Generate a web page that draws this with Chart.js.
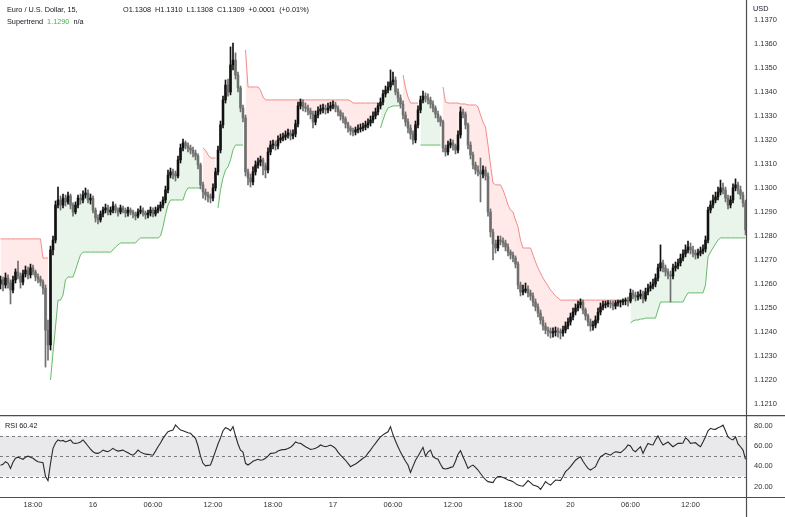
<!DOCTYPE html>
<html><head><meta charset="utf-8">
<script src="https://cdn.jsdelivr.net/npm/chart.js@4.4.0/dist/chart.umd.min.js"></script>
<style>
html,body{margin:0;padding:0;background:#fff;overflow:hidden;}
#wrap{position:relative;width:785px;height:517px;}
canvas{position:absolute;left:0;}
#main{top:0;}
#rsi{top:415px;}
.t{position:absolute;font:7.3px "Liberation Sans",Arial,sans-serif;color:#131722;white-space:pre;line-height:9px;display:flex;}
.t span{margin-right:4px;}
</style></head>
<body><div id="wrap">
<canvas id="main" width="785" height="415"></canvas>
<canvas id="rsi" width="785" height="102"></canvas>
<div class="t" style="left:7px;top:5px"><span>Euro / U.S. Dollar, 15,</span></div>
<div class="t" style="left:123px;top:5px"><span>O1.1308</span><span>H1.1310</span><span>L1.1308</span><span>C1.1309</span><span>+0.0001</span><span>(+0.01%)</span></div>
<div class="t" style="left:7px;top:17px"><span>Supertrend</span><span style="color:#4caf50">1.1290</span><span>n/a</span></div>
<div class="t" style="left:753px;top:4px">USD</div>
<div class="t" style="left:5px;top:421px">RSI 60.42</div>
</div>
<script>
// ---- time axis ----
const tickIdx = [13,37,61,85,109,133,157,181,205,228,252,276];
const tickLabels = ['18:00','16','06:00','12:00','18:00','17','06:00','12:00','18:00','20','06:00','12:00'];
const priceTicks = [1.121,1.122,1.123,1.124,1.125,1.126,1.127,1.128,1.129,1.130,1.131,1.132,1.133,1.134,1.135,1.136,1.137];
const rsiTicks = [20,40,60,80];
const rsiLevels = [70,50,30];

// ---- EUR/USD 15m bars ----
const opens = [
1.12600,1.12617,1.12596,1.12625,1.12604,1.12575,1.12617,1.12650,1.12633,1.12608,
1.12642,1.12658,1.12638,1.12667,1.12650,1.12629,1.12621,1.12608,1.12583,1.12408,
1.12346,1.12742,1.12783,1.12929,1.12950,1.12929,1.12958,1.12942,1.12967,1.12929,
1.12900,1.12929,1.12958,1.12950,1.12971,1.12979,1.12950,1.12958,1.12908,1.12875,
1.12867,1.12892,1.12908,1.12917,1.12900,1.12908,1.12925,1.12908,1.12900,1.12917,
1.12908,1.12896,1.12908,1.12900,1.12892,1.12883,1.12900,1.12908,1.12896,1.12888,
1.12896,1.12908,1.12892,1.12908,1.12917,1.12929,1.12950,1.12992,1.13054,1.13067,
1.13058,1.13050,1.13117,1.13167,1.13188,1.13175,1.13167,1.13158,1.13146,1.13133,
1.13096,1.13013,1.12983,1.12971,1.12963,1.12958,1.13000,1.13067,1.13158,1.13263,
1.13367,1.13429,1.13400,1.13513,1.13533,1.13471,1.13417,1.13333,1.13292,1.13067,
1.13042,1.13025,1.13067,1.13096,1.13108,1.13117,1.13092,1.13075,1.13150,1.13179,
1.13183,1.13175,1.13200,1.13208,1.13213,1.13221,1.13229,1.13217,1.13225,1.13267,
1.13342,1.13358,1.13338,1.13333,1.13321,1.13308,1.13275,1.13304,1.13321,1.13329,
1.13333,1.13325,1.13333,1.13342,1.13346,1.13333,1.13317,1.13300,1.13288,1.13267,
1.13250,1.13238,1.13233,1.13242,1.13246,1.13250,1.13254,1.13263,1.13271,1.13283,
1.13300,1.13317,1.13342,1.13358,1.13392,1.13408,1.13421,1.13442,1.13450,1.13400,
1.13375,1.13350,1.13304,1.13275,1.13250,1.13225,1.13200,1.13263,1.13325,1.13367,
1.13383,1.13375,1.13367,1.13350,1.13333,1.13308,1.13292,1.13275,1.13167,1.13150,
1.13179,1.13188,1.13175,1.13158,1.13221,1.13317,1.13308,1.13263,1.13179,1.13138,
1.13096,1.13075,1.13067,1.13058,1.13075,1.13050,1.12900,1.12817,1.12767,1.12750,
1.12783,1.12779,1.12771,1.12754,1.12733,1.12721,1.12708,1.12683,1.12596,1.12567,
1.12571,1.12579,1.12563,1.12550,1.12525,1.12504,1.12479,1.12450,1.12425,1.12408,
1.12404,1.12396,1.12400,1.12404,1.12400,1.12396,1.12408,1.12425,1.12442,1.12463,
1.12483,1.12500,1.12513,1.12525,1.12492,1.12467,1.12442,1.12425,1.12429,1.12450,
1.12483,1.12504,1.12513,1.12517,1.12521,1.12517,1.12508,1.12521,1.12525,1.12525,
1.12529,1.12531,1.12529,1.12562,1.12554,1.12546,1.12550,1.12558,1.12538,1.12567,
1.12583,1.12592,1.12600,1.12625,1.12667,1.12688,1.12667,1.12650,1.12638,1.12633,
1.12667,1.12675,1.12688,1.12708,1.12725,1.12742,1.12754,1.12742,1.12729,1.12721,
1.12729,1.12738,1.12746,1.12783,1.12908,1.12929,1.12950,1.12963,1.12983,1.13000,
1.12992,1.12958,1.12929,1.12950,1.13000,1.13013,1.12992,1.12971,1.12938];
const highs = [
1.12633,1.12629,1.12646,1.12638,1.12617,1.12633,1.12663,1.12696,1.12646,1.12658,
1.12675,1.12671,1.12683,1.12679,1.12658,1.12642,1.12633,1.12617,1.12596,1.12450,
1.12758,1.12800,1.12946,1.13004,1.12967,1.12975,1.12971,1.12983,1.12975,1.12938,
1.12942,1.12971,1.12975,1.12988,1.13000,1.12992,1.12975,1.12967,1.12917,1.12888,
1.12904,1.12921,1.12933,1.12929,1.12921,1.12942,1.12933,1.12917,1.12929,1.12925,
1.12917,1.12921,1.12917,1.12908,1.12900,1.12913,1.12925,1.12917,1.12904,1.12908,
1.12921,1.12917,1.12921,1.12929,1.12942,1.12963,1.13008,1.13075,1.13083,1.13079,
1.13071,1.13133,1.13183,1.13204,1.13196,1.13188,1.13179,1.13171,1.13158,1.13142,
1.13104,1.13025,1.12996,1.12983,1.12975,1.13017,1.13083,1.13175,1.13279,1.13383,
1.13450,1.13454,1.13588,1.13604,1.13563,1.13483,1.13425,1.13346,1.13304,1.13079,
1.13058,1.13088,1.13113,1.13125,1.13133,1.13125,1.13104,1.13167,1.13196,1.13200,
1.13196,1.13217,1.13225,1.13229,1.13238,1.13246,1.13242,1.13242,1.13283,1.13358,
1.13371,1.13367,1.13354,1.13346,1.13333,1.13321,1.13321,1.13338,1.13346,1.13350,
1.13346,1.13354,1.13358,1.13363,1.13358,1.13342,1.13325,1.13313,1.13296,1.13275,
1.13258,1.13250,1.13254,1.13263,1.13267,1.13271,1.13279,1.13288,1.13300,1.13317,
1.13333,1.13354,1.13375,1.13408,1.13425,1.13442,1.13492,1.13483,1.13463,1.13413,
1.13388,1.13363,1.13317,1.13288,1.13263,1.13238,1.13279,1.13342,1.13383,1.13404,
1.13396,1.13392,1.13379,1.13363,1.13342,1.13321,1.13300,1.13283,1.13179,1.13196,
1.13204,1.13200,1.13183,1.13238,1.13338,1.13329,1.13317,1.13271,1.13192,1.13150,
1.13108,1.13092,1.13125,1.13092,1.13088,1.13063,1.12913,1.12829,1.12783,1.12800,
1.12800,1.12792,1.12783,1.12767,1.12742,1.12733,1.12717,1.12692,1.12608,1.12596,
1.12604,1.12592,1.12575,1.12563,1.12538,1.12517,1.12492,1.12463,1.12438,1.12421,
1.12417,1.12417,1.12421,1.12417,1.12413,1.12425,1.12442,1.12458,1.12479,1.12500,
1.12517,1.12529,1.12538,1.12533,1.12500,1.12475,1.12454,1.12446,1.12467,1.12500,
1.12521,1.12529,1.12529,1.12531,1.12531,1.12529,1.12531,1.12533,1.12533,1.12538,
1.12542,1.12546,1.12579,1.12575,1.12567,1.12567,1.12575,1.12571,1.12583,1.12600,
1.12608,1.12621,1.12642,1.12683,1.12763,1.12700,1.12679,1.12663,1.12654,1.12683,
1.12692,1.12704,1.12725,1.12742,1.12763,1.12779,1.12771,1.12758,1.12742,1.12746,
1.12754,1.12763,1.12800,1.12921,1.12946,1.12971,1.12983,1.13004,1.13033,1.13021,
1.13004,1.12971,1.12967,1.13017,1.13038,1.13025,1.13008,1.12983,1.12950];
const lows = [
1.12579,1.12571,1.12583,1.12583,1.12517,1.12563,1.12604,1.12621,1.12583,1.12596,
1.12629,1.12621,1.12625,1.12638,1.12613,1.12604,1.12592,1.12558,1.12254,1.12283,
1.12325,1.12721,1.12771,1.12917,1.12908,1.12917,1.12925,1.12933,1.12913,1.12883,
1.12892,1.12917,1.12933,1.12938,1.12958,1.12938,1.12933,1.12896,1.12858,1.12850,
1.12858,1.12879,1.12896,1.12888,1.12888,1.12896,1.12896,1.12883,1.12892,1.12896,
1.12879,1.12883,1.12888,1.12875,1.12867,1.12875,1.12892,1.12883,1.12871,1.12875,
1.12883,1.12879,1.12883,1.12896,1.12904,1.12917,1.12938,1.12979,1.13042,1.13038,
1.13029,1.13042,1.13104,1.13154,1.13163,1.13150,1.13142,1.13129,1.13117,1.13079,
1.12996,1.12958,1.12950,1.12942,1.12938,1.12946,1.12988,1.13054,1.13146,1.13250,
1.13354,1.13383,1.13388,1.13492,1.13454,1.13400,1.13317,1.13275,1.13050,1.13013,
1.13004,1.13013,1.13054,1.13083,1.13092,1.13054,1.13042,1.13063,1.13138,1.13163,
1.13158,1.13163,1.13188,1.13196,1.13200,1.13208,1.13200,1.13204,1.13213,1.13254,
1.13329,1.13321,1.13317,1.13304,1.13288,1.13250,1.13263,1.13292,1.13308,1.13313,
1.13308,1.13313,1.13321,1.13329,1.13317,1.13300,1.13283,1.13271,1.13250,1.13233,
1.13221,1.13217,1.13221,1.13229,1.13233,1.13238,1.13242,1.13250,1.13258,1.13271,
1.13288,1.13304,1.13329,1.13346,1.13379,1.13396,1.13408,1.13429,1.13388,1.13358,
1.13333,1.13288,1.13258,1.13229,1.13204,1.13183,1.13188,1.13250,1.13313,1.13354,
1.13358,1.13350,1.13333,1.13317,1.13292,1.13275,1.13258,1.13150,1.13133,1.13138,
1.13167,1.13158,1.13142,1.13146,1.13208,1.13292,1.13246,1.13163,1.13121,1.13079,
1.13058,1.13050,1.12942,1.13042,1.13033,1.12883,1.12796,1.12700,1.12729,1.12738,
1.12763,1.12754,1.12738,1.12717,1.12704,1.12692,1.12667,1.12579,1.12550,1.12554,
1.12563,1.12546,1.12533,1.12508,1.12488,1.12463,1.12433,1.12408,1.12392,1.12383,
1.12375,1.12379,1.12383,1.12379,1.12371,1.12383,1.12396,1.12413,1.12429,1.12450,
1.12471,1.12488,1.12500,1.12475,1.12450,1.12425,1.12404,1.12408,1.12417,1.12438,
1.12471,1.12492,1.12500,1.12504,1.12500,1.12492,1.12496,1.12508,1.12504,1.12513,
1.12513,1.12508,1.12521,1.12538,1.12529,1.12533,1.12538,1.12521,1.12529,1.12554,
1.12571,1.12579,1.12588,1.12613,1.12654,1.12650,1.12633,1.12621,1.12525,1.12621,
1.12654,1.12663,1.12675,1.12696,1.12713,1.12729,1.12725,1.12713,1.12704,1.12708,
1.12717,1.12725,1.12733,1.12771,1.12896,1.12917,1.12938,1.12950,1.12971,1.12975,
1.12942,1.12913,1.12917,1.12938,1.12988,1.12975,1.12954,1.12921,1.12804];
const closes = [
1.12617,1.12596,1.12625,1.12604,1.12575,1.12617,1.12650,1.12633,1.12608,1.12642,
1.12658,1.12638,1.12667,1.12650,1.12629,1.12621,1.12608,1.12583,1.12408,1.12346,
1.12742,1.12783,1.12929,1.12950,1.12929,1.12958,1.12942,1.12967,1.12929,1.12900,
1.12929,1.12958,1.12950,1.12971,1.12979,1.12950,1.12958,1.12908,1.12875,1.12867,
1.12892,1.12908,1.12917,1.12900,1.12908,1.12925,1.12908,1.12900,1.12917,1.12908,
1.12896,1.12908,1.12900,1.12892,1.12883,1.12900,1.12908,1.12896,1.12888,1.12896,
1.12908,1.12892,1.12908,1.12917,1.12929,1.12950,1.12992,1.13054,1.13067,1.13058,
1.13050,1.13117,1.13167,1.13188,1.13175,1.13167,1.13158,1.13146,1.13133,1.13096,
1.13013,1.12983,1.12971,1.12963,1.12958,1.13000,1.13067,1.13158,1.13263,1.13367,
1.13429,1.13400,1.13513,1.13533,1.13471,1.13417,1.13333,1.13292,1.13067,1.13042,
1.13025,1.13067,1.13096,1.13108,1.13117,1.13092,1.13075,1.13150,1.13179,1.13183,
1.13175,1.13200,1.13208,1.13213,1.13221,1.13229,1.13217,1.13225,1.13267,1.13342,
1.13358,1.13338,1.13333,1.13321,1.13308,1.13275,1.13304,1.13321,1.13329,1.13333,
1.13325,1.13333,1.13342,1.13346,1.13333,1.13317,1.13300,1.13288,1.13267,1.13250,
1.13238,1.13233,1.13242,1.13246,1.13250,1.13254,1.13263,1.13271,1.13283,1.13300,
1.13317,1.13342,1.13358,1.13392,1.13408,1.13421,1.13442,1.13450,1.13400,1.13375,
1.13350,1.13304,1.13275,1.13250,1.13225,1.13200,1.13263,1.13325,1.13367,1.13383,
1.13375,1.13367,1.13350,1.13333,1.13308,1.13292,1.13275,1.13167,1.13150,1.13179,
1.13188,1.13175,1.13158,1.13221,1.13317,1.13308,1.13263,1.13179,1.13138,1.13096,
1.13075,1.13067,1.13058,1.13075,1.13050,1.12900,1.12817,1.12767,1.12750,1.12783,
1.12779,1.12771,1.12754,1.12733,1.12721,1.12708,1.12683,1.12596,1.12567,1.12571,
1.12579,1.12563,1.12550,1.12525,1.12504,1.12479,1.12450,1.12425,1.12408,1.12404,
1.12396,1.12400,1.12404,1.12400,1.12396,1.12408,1.12425,1.12442,1.12463,1.12483,
1.12500,1.12513,1.12525,1.12492,1.12467,1.12442,1.12425,1.12429,1.12450,1.12483,
1.12504,1.12513,1.12517,1.12521,1.12517,1.12508,1.12521,1.12525,1.12525,1.12529,
1.12531,1.12529,1.12562,1.12554,1.12546,1.12550,1.12558,1.12538,1.12567,1.12583,
1.12592,1.12600,1.12625,1.12667,1.12688,1.12667,1.12650,1.12638,1.12633,1.12667,
1.12675,1.12688,1.12708,1.12725,1.12742,1.12754,1.12742,1.12729,1.12721,1.12729,
1.12738,1.12746,1.12783,1.12908,1.12929,1.12950,1.12963,1.12983,1.13000,1.12992,
1.12958,1.12929,1.12950,1.13000,1.13013,1.12992,1.12971,1.12938,1.12825];

// ---- Supertrend ----
const supertrend = [
1.12788,1.12788,1.12788,1.12788,1.12788,1.12788,1.12788,1.12788,1.12788,1.12788,
1.12788,1.12788,1.12788,1.12788,1.12788,1.12788,1.12788,1.12708,1.12708,1.12708,
1.12200,1.12313,1.12421,1.12533,1.12533,1.12554,1.12617,1.12629,1.12629,1.12629,
1.12658,1.12692,1.12721,1.12733,1.12733,1.12733,1.12733,1.12733,1.12733,1.12733,
1.12733,1.12733,1.12733,1.12733,1.12733,1.12742,1.12754,1.12763,1.12771,1.12771,
1.12771,1.12771,1.12771,1.12771,1.12771,1.12783,1.12792,1.12792,1.12792,1.12792,
1.12792,1.12792,1.12792,1.12792,1.12800,1.12838,1.12888,1.12929,1.12950,1.12950,
1.12950,1.12950,1.12950,1.12950,1.12983,1.13000,1.13000,1.13000,1.13000,1.13000,
1.13000,1.13167,1.13158,1.13138,1.13125,1.13125,1.13125,1.12917,1.12992,1.13042,
1.13075,1.13088,1.13117,1.13158,1.13179,1.13179,1.13179,1.13179,1.13575,1.13421,
1.13421,1.13421,1.13421,1.13421,1.13408,1.13379,1.13367,1.13367,1.13367,1.13367,
1.13367,1.13367,1.13367,1.13367,1.13367,1.13367,1.13367,1.13367,1.13367,1.13367,
1.13367,1.13367,1.13367,1.13367,1.13367,1.13367,1.13367,1.13367,1.13367,1.13367,
1.13367,1.13367,1.13367,1.13367,1.13367,1.13367,1.13367,1.13367,1.13367,1.13367,
1.13363,1.13354,1.13354,1.13354,1.13354,1.13354,1.13354,1.13354,1.13354,1.13354,
1.13354,1.13354,1.13250,1.13283,1.13313,1.13333,1.13338,1.13342,1.13342,1.13342,
1.13346,1.13471,1.13417,1.13379,1.13354,1.13354,1.13354,1.13354,1.13179,1.13179,
1.13179,1.13179,1.13179,1.13179,1.13179,1.13179,1.13179,1.13421,1.13358,1.13354,
1.13354,1.13354,1.13354,1.13354,1.13350,1.13350,1.13350,1.13346,1.13346,1.13346,
1.13346,1.13338,1.13304,1.13275,1.13254,1.13179,1.13096,1.13021,1.13013,1.13013,
1.13013,1.12992,1.12963,1.12929,1.12908,1.12900,1.12867,1.12838,1.12783,1.12750,
1.12750,1.12750,1.12750,1.12721,1.12692,1.12667,1.12646,1.12625,1.12608,1.12592,
1.12575,1.12563,1.12550,1.12542,1.12533,1.12533,1.12533,1.12533,1.12533,1.12533,
1.12533,1.12533,1.12533,1.12533,1.12533,1.12533,1.12533,1.12533,1.12533,1.12533,
1.12533,1.12533,1.12533,1.12533,1.12533,1.12533,1.12533,1.12533,1.12533,1.12533,
1.12533,1.12533,1.12438,1.12446,1.12450,1.12450,1.12454,1.12454,1.12458,1.12458,
1.12458,1.12458,1.12458,1.12492,1.12525,1.12525,1.12525,1.12525,1.12525,1.12525,
1.12525,1.12525,1.12525,1.12525,1.12546,1.12563,1.12563,1.12563,1.12563,1.12563,
1.12563,1.12563,1.12596,1.12713,1.12733,1.12750,1.12767,1.12783,1.12792,1.12792,
1.12792,1.12792,1.12792,1.12792,1.12792,1.12792,1.12792,1.12792,1.12792];

// ---- RSI(14) ----
const rsi = [
41,42,44.6,43,38,44,48,49,48,47,
49,50,49,48,46,44.5,44,43.5,30,26,
43,57.7,63,66,65,65.5,64,65,66,63,
62.6,63,64,66,63,60,57,54.4,53,52.8,
54,56,55,54.4,56,57.7,56,55,55.5,56,
54.5,53.4,52,51,53,56,54,52.8,52,51.8,
51.5,51,55,59.3,63,67.5,71,74,75,75.7,
80.7,78,75.7,75,74,73,72.5,70,67.5,60,
50,43,40.5,41,41.3,48,55,62,68,75,
78,77,75,79,70,62,56,54,43,41.3,
43,45,46,47,46,46.5,48,50,52.8,53,
53.4,55,56,56.5,56.7,57.5,58.7,61,64,63,
62.6,61,59.3,58,56.7,57,57.7,59,61,60,
59.3,60,61,59.5,57.7,54,51,48.5,46,43,
39.7,41,42.3,44,46,48,49.5,53,56,59.5,
62.6,66,69,71,72.5,74,79,71,65,59.3,
54,49.5,45,41.3,34,40,46,50,54.4,58.7,
50,54,56,49.5,48,47,42,38,37.5,38,
39,39.7,45,52,55.4,49.5,44,38,40,41.3,
39,36.4,33,29.8,27,25,24.5,24,28,30,
30,29,28,26.6,26,25,23,21.6,21,20.6,
23,26,24,21.6,21,20,17.4,21,25,23,
21.6,24,26.6,26.3,26,30,34.8,37,39.7,43,
46,48,49.5,45,41.3,38,36.4,38,39.7,45,
49.5,51,52.8,52,51,53,54.4,54,53.4,55.5,
57.7,61,60,56,54.4,57,59.3,52.8,58,62.6,
61.5,61,66,70,65,61,62.5,64,61.5,59.3,
61,62.6,62.6,63,68,66,62.6,63,63.3,61,
59.3,64,69,75,77.4,76.5,76.4,78,79,80.5,
75,69,67,66,69,62,59.3,56,47];

// ---- build ----
Chart.defaults.font.family = '"Liberation Sans", Arial, sans-serif';
Chart.defaults.font.size = 7.5;
Chart.defaults.color = '#333';

const UP = '#111111', DOWN = '#6f6f6f';
const idx = closes.map((_, i) => i);
const isUpTrend = i => supertrend[i] < closes[i];
const candleColor = c => (closes[c.dataIndex] >= opens[c.dataIndex] ? UP : DOWN);

const xScale = {type:'linear', min:-0.2, max:298.2, offset:false, display:false, grid:{display:false}};
const AXIS_W = 39;
const frameColor = '#4d4d4d';
const fitRight = s => { s.width = AXIS_W; s.paddingTop = 0; s.paddingBottom = 0; };

const mainFrame = {
  id:'mainFrame',
  afterDraw(chart){
    const {ctx, chartArea:a} = chart;
    ctx.save();
    ctx.strokeStyle = frameColor; ctx.lineWidth = 1.2;
    ctx.beginPath(); ctx.moveTo(a.right+0.5, 0); ctx.lineTo(a.right+0.5, chart.height); ctx.stroke();
    ctx.restore();
  }
};

new Chart(document.getElementById('main'), {
  type:'bar',
  data:{
    datasets:[
      {type:'line', data: idx.map(i => ({x:i, y: isUpTrend(i) ? (opens[i]+closes[i])/2 : null})),
       borderWidth:0, pointRadius:0, borderColor:'rgba(0,0,0,0)', spanGaps:false, order:3},
      {type:'line', data: idx.map(i => ({x:i, y: !isUpTrend(i) ? (opens[i]+closes[i])/2 : null})),
       borderWidth:0, pointRadius:0, borderColor:'rgba(0,0,0,0)', spanGaps:false, order:3},
      {type:'line', data: idx.map(i => ({x:i, y: isUpTrend(i) ? supertrend[i] : null})),
       borderColor:'#66bb6a', borderWidth:1, pointRadius:0, spanGaps:false, tension:0, order:2,
       fill:{target:0, above:'rgba(76,175,80,0.12)', below:'rgba(76,175,80,0.12)'}},
      {type:'line', data: idx.map(i => ({x:i, y: !isUpTrend(i) ? supertrend[i] : null})),
       borderColor:'#f28b8b', borderWidth:1, pointRadius:0, spanGaps:false, tension:0, order:2,
       fill:{target:1, above:'rgba(255,82,82,0.13)', below:'rgba(255,82,82,0.13)'}},
      {type:'bar', data: idx.map(i => ({x:i, y:[lows[i], highs[i]]})),
       backgroundColor:candleColor, barThickness:1, grouped:false, order:1},
      {type:'bar', data: idx.map(i => ({x:i, y:[opens[i], closes[i]]})),
       backgroundColor:candleColor, barThickness:1.9, minBarLength:1, grouped:false, order:0}
    ]
  },
  options:{
    responsive:false, animation:false, devicePixelRatio:1,
    layout:{padding:0},
    plugins:{legend:{display:false}, tooltip:{enabled:false}},
    scales:{
      x: xScale,
      y:{type:'linear', position:'right', min:1.120542, max:1.137833,
         grid:{display:false, drawTicks:false}, border:{display:false},
         afterBuildTicks: s => { s.ticks = priceTicks.map(v => ({value:v})); },
         afterFit: fitRight,
         ticks:{padding:8, color:'#333', callback: v => Number(v).toFixed(4), autoSkip:false}}
    }
  },
  plugins:[mainFrame]
});

const rsiDecor = {
  id:'rsiDecor',
  beforeDatasetsDraw(chart){
    const {ctx, chartArea:a, scales:{y}} = chart;
    const t = y.getPixelForValue(rsiLevels[0]), b = y.getPixelForValue(rsiLevels[2]);
    ctx.save();
    ctx.fillStyle = '#e9e9eb';
    ctx.fillRect(a.left, t, a.right - a.left, b - t);
    ctx.setLineDash([3,3]); ctx.strokeStyle = '#7d7d7d'; ctx.lineWidth = 1;
    rsiLevels.forEach(v => {
      const py = Math.round(y.getPixelForValue(v)) + 0.5;
      ctx.beginPath(); ctx.moveTo(a.left, py); ctx.lineTo(a.right, py); ctx.stroke();
    });
    ctx.restore();
  },
  afterDraw(chart){
    const {ctx, chartArea:a} = chart;
    ctx.save();
    ctx.strokeStyle = frameColor; ctx.lineWidth = 1.2;
    ctx.beginPath();
    ctx.moveTo(0, 0.6); ctx.lineTo(chart.width, 0.6);
    ctx.moveTo(0, a.bottom + 0.5); ctx.lineTo(chart.width, a.bottom + 0.5);
    ctx.moveTo(a.right + 0.5, 0); ctx.lineTo(a.right + 0.5, chart.height);
    ctx.stroke();
    ctx.restore();
  }
};

new Chart(document.getElementById('rsi'), {
  type:'line',
  data:{datasets:[{data: idx.map(i => ({x:i, y:rsi[i]})), borderColor:'#2a2a2a', borderWidth:1.1,
    pointRadius:0, tension:0, fill:false}]},
  options:{
    responsive:false, animation:false, devicePixelRatio:1,
    layout:{padding:{top:1, left:0, right:0, bottom:0}},
    plugins:{legend:{display:false}, tooltip:{enabled:false}},
    scales:{
      x:{type:'linear', min:-0.2, max:298.2, offset:false, position:'bottom',
         grid:{display:false, drawTicks:false}, border:{display:false},
         afterBuildTicks: s => { s.ticks = tickIdx.map(v => ({value:v})); },
         afterFit: s => { s.height = 20; s.paddingLeft = 0; s.paddingRight = 0; },
         ticks:{padding:3, color:'#333', autoSkip:false, maxRotation:0, minRotation:0,
                callback:(v, i) => tickLabels[i]}},
      y:{type:'linear', position:'right', min:9.9, max:89.5,
         grid:{display:false, drawTicks:false}, border:{display:false},
         afterBuildTicks: s => { s.ticks = rsiTicks.map(v => ({value:v})); },
         afterFit: fitRight,
         ticks:{padding:8, color:'#333', callback: v => Number(v).toFixed(2), autoSkip:false}}
    }
  },
  plugins:[rsiDecor]
});
</script>
</body></html>
